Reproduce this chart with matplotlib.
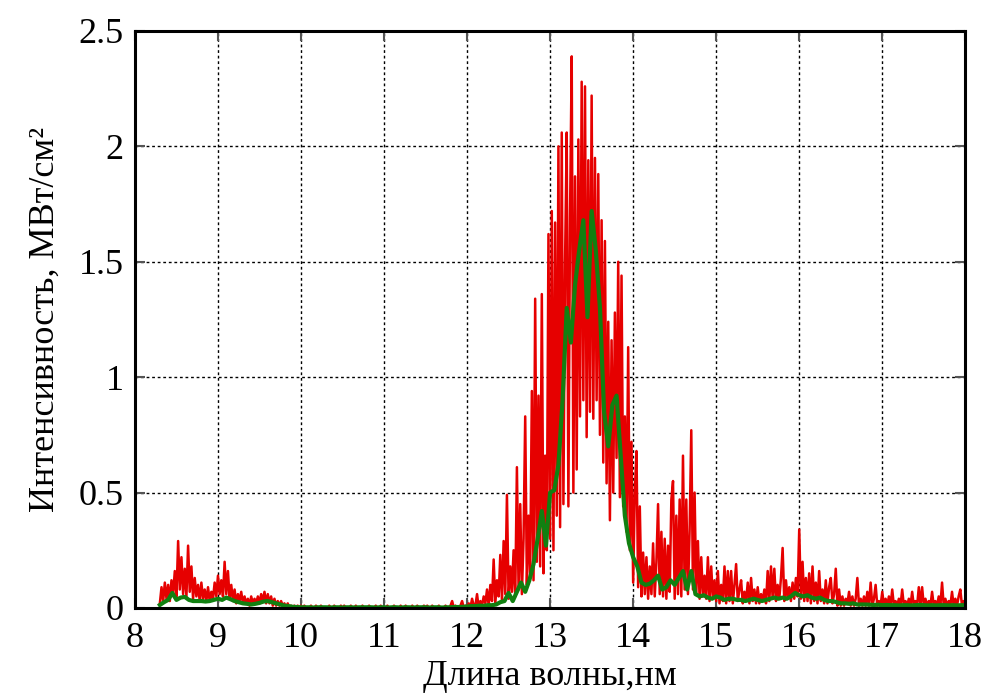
import numpy as np
import matplotlib.pyplot as plt

# Спектр: красный - исходный сигнал, зелёный - сглаженный
red_start, red_step = 8.30, 0.02
red_int = [
    0.02, 0.09, 0.03, 0.11, 0.04, 0.10, 0.03, 0.12, 0.06, 0.16,
    0.05, 0.29, 0.08, 0.22, 0.06, 0.17, 0.05, 0.27, 0.07, 0.18,
    0.04, 0.13, 0.05, 0.10, 0.03, 0.11, 0.04, 0.08, 0.03, 0.09,
    0.03, 0.07, 0.04, 0.11, 0.05, 0.14, 0.06, 0.12, 0.05, 0.20,
    0.06, 0.16, 0.04, 0.10, 0.03, 0.08, 0.02, 0.06, 0.03, 0.07,
    0.02, 0.05, 0.02, 0.04, 0.01, 0.05, 0.02, 0.04, 0.02, 0.05,
    0.02, 0.06, 0.03, 0.07, 0.02, 0.06, 0.02, 0.05, 0.01, 0.04,
    0.01, 0.03, 0.01, 0.03, 0.01, 0.02, 0.00, 0.02, 0.00, 0.01,
    0.00, 0.01, 0.00, 0.01, 0.00, 0.01, 0.00, 0.01, 0.00, 0.00,
    0.00, 0.01, 0.00, 0.00, 0.01, 0.00, 0.00, 0.01, 0.00, 0.00,
    0.00, 0.00, 0.01, 0.00, 0.00, 0.01, 0.00, 0.00, 0.00, 0.01,
    0.00, 0.01, 0.00, 0.00, 0.00, 0.01, 0.00, 0.00, 0.01, 0.00,
    0.00, 0.00, 0.01, 0.00, 0.00, 0.00, 0.01, 0.00, 0.00, 0.00,
    0.01, 0.00, 0.00, 0.01, 0.00, 0.00, 0.00, 0.01, 0.00, 0.00,
    0.00, 0.01, 0.00, 0.00, 0.00, 0.01, 0.00, 0.00, 0.01, 0.00,
    0.00, 0.00, 0.01, 0.00, 0.00, 0.01, 0.00, 0.00, 0.00, 0.01,
    0.00, 0.01, 0.00, 0.00, 0.01, 0.00, 0.00, 0.00, 0.01, 0.00,
    0.00, 0.00, 0.01, 0.00, 0.00, 0.01, 0.03, 0.00, 0.01, 0.00,
    0.00, 0.01, 0.03, 0.00, 0.01, 0.00, 0.02, 0.00, 0.04, 0.01,
    0.01, 0.06, 0.00, 0.03, 0.01, 0.05, 0.02, 0.08, 0.01, 0.10,
    0.03, 0.21, 0.02, 0.12, 0.05, 0.23, 0.03, 0.29, 0.06, 0.49,
    0.04, 0.18, 0.07, 0.25, 0.05, 0.61, 0.08, 0.45, 0.06, 0.30,
    0.83, 0.10, 0.40, 0.15, 0.94, 0.12, 1.34, 0.20, 0.92, 0.18,
    1.36, 0.15, 0.66, 0.25, 1.62, 0.30, 1.72, 0.25, 1.67, 0.40,
    2.00, 0.35, 2.06, 0.45, 1.50, 2.06, 0.44, 1.70, 2.39, 0.50,
    1.87, 0.60, 2.03, 0.83, 2.28, 0.90, 2.26, 0.74, 1.94, 0.85,
    2.22, 0.82, 1.95, 0.90, 1.88, 0.75, 1.68, 0.63, 1.59, 0.54,
    1.24, 0.38, 1.16, 0.50, 1.28, 0.65, 1.50, 0.48, 1.44, 0.44,
    0.83, 0.33, 1.13, 0.25, 0.72, 0.11, 0.50, 0.68, 0.09, 0.44,
    0.05, 0.24, 0.06, 0.22, 0.04, 0.18, 0.06, 0.28, 0.05, 0.20,
    0.45, 0.06, 0.33, 0.05, 0.30, 0.04, 0.27, 0.07, 0.47, 0.55,
    0.04, 0.40, 0.06, 0.47, 0.05, 0.66, 0.08, 0.47, 0.06, 0.34,
    0.77, 0.08, 0.50, 0.06, 0.29, 0.04, 0.22, 0.05, 0.14, 0.04,
    0.22, 0.03, 0.18, 0.04, 0.12, 0.03, 0.16, 0.02, 0.10, 0.03,
    0.18, 0.02, 0.16, 0.03, 0.16, 0.02, 0.10, 0.19, 0.03, 0.08,
    0.12, 0.02, 0.07, 0.03, 0.11, 0.02, 0.13, 0.03, 0.08, 0.02,
    0.09, 0.02, 0.06, 0.03, 0.08, 0.02, 0.16, 0.03, 0.18, 0.04,
    0.17, 0.03, 0.10, 0.04, 0.13, 0.26, 0.03, 0.12, 0.04, 0.09,
    0.03, 0.11, 0.04, 0.13, 0.05, 0.34, 0.04, 0.20, 0.03, 0.13,
    0.03, 0.15, 0.02, 0.18, 0.03, 0.11, 0.02, 0.16, 0.03, 0.08,
    0.02, 0.12, 0.02, 0.09, 0.13, 0.02, 0.06, 0.17, 0.01, 0.08,
    0.01, 0.05, 0.01, 0.04, 0.02, 0.07, 0.01, 0.05, 0.01, 0.04,
    0.13, 0.01, 0.04, 0.01, 0.05, 0.01, 0.07, 0.01, 0.11, 0.01,
    0.04, 0.10, 0.01, 0.03, 0.01, 0.07, 0.01, 0.04, 0.01, 0.05,
    0.01, 0.08, 0.01, 0.03, 0.01, 0.04, 0.01, 0.08, 0.01, 0.03,
    0.01, 0.04, 0.01, 0.07, 0.01, 0.03, 0.01, 0.09, 0.01, 0.09,
    0.01, 0.04, 0.01, 0.03, 0.01, 0.07, 0.01, 0.03, 0.01, 0.05,
    0.01, 0.11, 0.01, 0.04, 0.01, 0.03, 0.01, 0.07, 0.01, 0.04,
    0.01, 0.05, 0.08, 0.01, 0.03, 0.01,
]

green_start, green_step = 8.30, 0.05
green_int = [
    0.013, 0.025, 0.035, 0.065, 0.035, 0.045, 0.048, 0.035, 0.030, 0.030,
    0.030, 0.028, 0.030, 0.035, 0.040, 0.035, 0.045, 0.038, 0.030, 0.025,
    0.020, 0.018, 0.015, 0.018, 0.022, 0.028, 0.030, 0.025, 0.020, 0.015,
    0.010, 0.008, 0.005, 0.004, 0.003, 0.003, 0.003, 0.002, 0.003, 0.003,
    0.003, 0.002, 0.003, 0.003, 0.002, 0.003, 0.003, 0.002, 0.003, 0.003,
    0.003, 0.003, 0.002, 0.003, 0.003, 0.002, 0.003, 0.003, 0.002, 0.003,
    0.003, 0.002, 0.003, 0.003, 0.003, 0.002, 0.003, 0.003, 0.002, 0.003,
    0.003, 0.004, 0.004, 0.005, 0.006, 0.008, 0.008, 0.010, 0.009, 0.012,
    0.012, 0.015, 0.025, 0.030, 0.065, 0.030, 0.070, 0.110, 0.070, 0.120,
    0.190, 0.300, 0.420, 0.270, 0.500, 0.510, 0.620, 0.900, 1.300, 1.150,
    1.400, 1.550, 1.680, 1.260, 1.720, 1.550, 1.300, 0.850, 0.700, 0.880,
    0.920, 0.660, 0.400, 0.280, 0.220, 0.180, 0.110, 0.100, 0.105, 0.120,
    0.140, 0.080, 0.090, 0.120, 0.100, 0.130, 0.160, 0.080, 0.160, 0.060,
    0.050, 0.055, 0.045, 0.040, 0.050, 0.045, 0.035, 0.040, 0.040, 0.035,
    0.035, 0.030, 0.035, 0.040, 0.035, 0.030, 0.035, 0.040, 0.045, 0.040,
    0.045, 0.040, 0.050, 0.065, 0.055, 0.050, 0.055, 0.045, 0.040, 0.045,
    0.035, 0.030, 0.030, 0.025, 0.020, 0.020, 0.018, 0.020, 0.015, 0.015,
    0.015, 0.014, 0.013, 0.014, 0.012, 0.013, 0.012, 0.012, 0.011, 0.012,
    0.012, 0.011, 0.012, 0.013, 0.012, 0.011, 0.012, 0.011, 0.012, 0.012,
    0.011, 0.012, 0.011, 0.012, 0.012,
]

x_ticks = [8, 9, 10, 11, 12, 13, 14, 15, 16, 17, 18]
y_ticks = [0, 0.5, 1, 1.5, 2, 2.5]
y_tick_labels = ["0", "0.5", "1", "1.5", "2", "2.5"]

red_wl = red_start + red_step * np.arange(len(red_int))
green_wl = green_start + green_step * np.arange(len(green_int))

plt.rcParams["font.family"] = ["Liberation Serif", "DejaVu Serif"]

fig = plt.figure(figsize=(9.85, 6.93), dpi=100)
ax = fig.add_axes([0.137, 0.1227, 0.843, 0.8326])

ax.plot(red_wl, red_int, color="#e60000", lw=1.8)
ax.plot(green_wl, green_int, color="#118011", lw=3.0)

ax.set_xlim(8, 18)
ax.set_ylim(0, 2.5)
ax.set_xticks(x_ticks)
ax.set_yticks(y_ticks)
ax.set_yticklabels(y_tick_labels)

ax.grid(True, color="black", linestyle=(0, (2, 2)), lw=1)
ax.tick_params(direction="in", length=7, width=1.5, color="#555555",
               top=True, right=True, labelsize=26)
ax.tick_params(axis="x", pad=10)
ax.tick_params(axis="y", pad=8)
for s in ax.spines.values():
    s.set_linewidth(2.2)

ax.set_xlabel("Длина волны,нм", fontsize=26, labelpad=4)
ax.set_ylabel("Интенсивность, МВт/см²", fontsize=26, labelpad=12)

fig.savefig("out.png", dpi=100)
